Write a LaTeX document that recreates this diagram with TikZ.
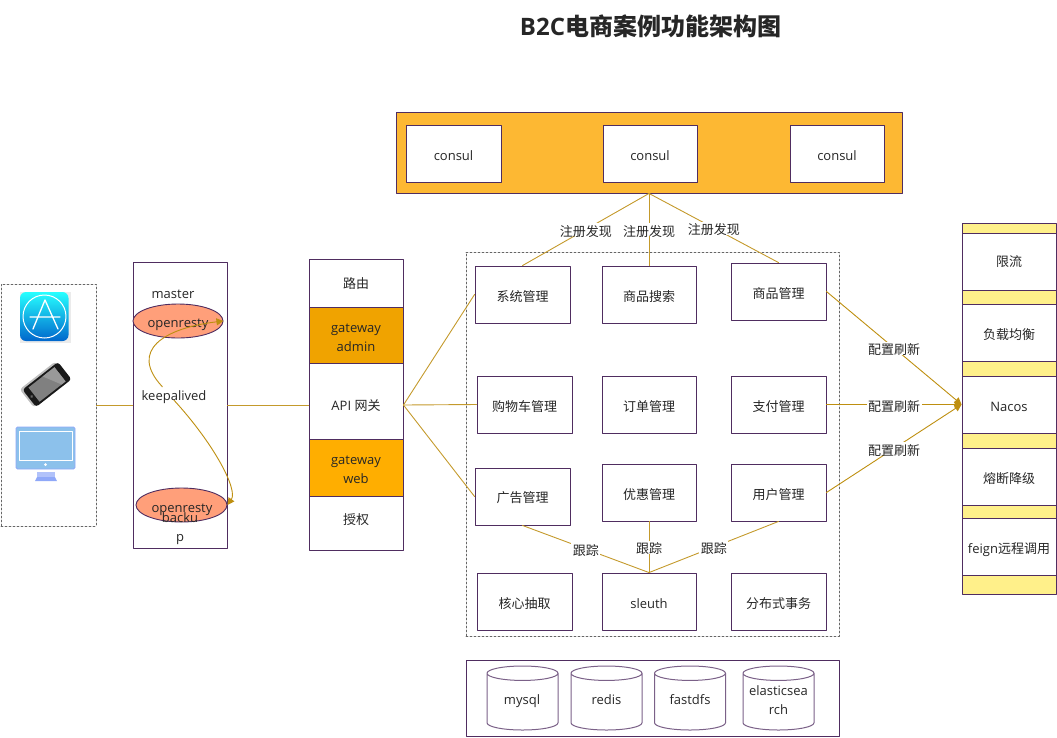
\documentclass[tikz,border=0pt]{standalone}
\usepackage{fontspec}
\setmainfont{Open Sans}
\newfontfamily\cjk{Noto Sans CJK SC}
\usetikzlibrary{arrows.meta,shapes.geometric}

\definecolor{edgepurple}{HTML}{4F2D60}
\definecolor{linegold}{HTML}{C49A2C}
\definecolor{tipgold}{HTML}{BE8F10}
\definecolor{panelorange}{HTML}{FDB833}
\definecolor{adminorange}{HTML}{F0A300}
\definecolor{weborange}{HTML}{FFAE00}
\definecolor{ovalsalmon}{HTML}{FF9F7A}
\definecolor{stripyellow}{HTML}{FFF08A}
\definecolor{screenblue}{HTML}{8CC1EB}
\definecolor{standblue}{HTML}{8FA8F8}

\begin{document}
\begin{tikzpicture}[line cap=round,line join=round,>={Triangle[length=7pt,width=7pt]},x=1pt,y=-1pt,
  txt/.style={font=\fontsize{13}{19}\selectfont,text=black!85,align=center,inner sep=0pt,text height=13pt,text depth=0pt},
  two/.style={txt,text height=32.5pt},
  zh/.style={txt,font=\cjk\fontsize{13}{19}\selectfont},
  box/.style={draw=edgepurple,line width=0.9pt,fill=white,minimum width=95pt,minimum height=57pt,inner sep=0pt},
  panel/.style={draw=edgepurple,line width=0.9pt,inner sep=0pt},
  dotbox/.style={draw=black!60,line width=0.9pt,dash pattern=on 2pt off 2pt,inner sep=0pt},
  strip/.style={panel,fill=stripyellow,minimum width=94pt},
  oval/.style={ellipse,draw=edgepurple,line width=0.9pt,fill=ovalsalmon,inner sep=0pt},
  db/.style={cylinder,shape border rotate=90,aspect=0.4,anchor=shape center,draw=edgepurple!75,line width=1pt,minimum width=71pt,minimum height=64pt,inner sep=0pt},
  wire/.style={draw=linegold,line width=0.9pt},
  lbl/.style={zh,fill=white,inner xsep=1.5pt}]
\useasboundingbox (0,0) rectangle (1057,737);

% title
\node[font=\cjk\bfseries\fontsize{24}{28}\selectfont,text=black!85,inner sep=0pt] (title) at (650.5,26.5) {{\fontspec{Open Sans}\bfseries B2C}电商案例功能架构图};

% dashed groups
\node[dotbox,minimum width=95pt,minimum height=242pt] (clients) at (48.5,405) {};
\node[dotbox,minimum width=373pt,minimum height=384pt] (services) at (652.5,444) {};

% consul
\node[panel,fill=panelorange,minimum width=506pt,minimum height=81pt] (consulpanel) at (649,152.5) {};
\node[box,txt] (consula) at (453.5,153.5) {consul};
\node[box,txt,minimum width=94pt] (consulb) at (650,153.5) {consul};
\node[box,txt,minimum width=94pt] (consulc) at (837,153.5) {consul};

% openresty
\node[panel,fill=white,minimum width=94pt,minimum height=286pt] (resty) at (180,405) {};
\node[txt] (master) at (173,292) {master};
\node[oval,txt,minimum width=90pt,minimum height=34pt] (restya) at (178,321) {openresty};
\node[oval,minimum width=91pt,minimum height=34pt] (restyb) at (181.5,505) {};
\node[txt] (restybtxt) at (182,505.5) {openresty};
\node[two] (backup) at (180,525) {backu\\p};
\node[txt] (keep) at (174,393.5) {keepalived};

% gateway
\node[box,zh,minimum width=94pt,minimum height=48pt,text depth=2pt] (route) at (356,283) {路由};
\node[box,two,fill=adminorange,minimum width=94pt,minimum height=56pt] (gwadmin) at (356,335) {gateway\\admin};
\node[box,txt,minimum width=94pt,minimum height=76pt,text height=19pt] (api) at (356,401) {API {\cjk 网关}};
\node[box,two,fill=weborange,minimum width=94pt,minimum height=57pt] (gwweb) at (356,467.5) {gateway\\web};
\node[box,zh,minimum width=94pt,minimum height=54pt,text depth=10pt] (auth) at (356,523) {授权};

% services
\node[box,zh] (sys) at (522.5,294.5) {系统管理};
\node[box,zh,minimum width=94pt] (search) at (649,294.5) {商品搜索};
\node[box,zh] (goods) at (778.5,291.5) {商品管理};
\node[box,zh] (cart) at (524.5,404.5) {购物车管理};
\node[box,zh,minimum width=94pt] (order) at (649,404.5) {订单管理};
\node[box,zh] (pay) at (778.5,404.5) {支付管理};
\node[box,zh,text depth=2pt] (ads) at (522.5,496.5) {广告管理};
\node[box,zh,minimum width=94pt] (coupon) at (649,492.5) {优惠管理};
\node[box,zh] (user) at (778.5,492.5) {用户管理};
\node[box,zh] (core) at (524.5,601.5) {核心抽取};
\node[box,txt,minimum width=94pt] (sleuth) at (649,601.5) {sleuth};
\node[box,zh] (trans) at (778.5,601.5) {分布式事务};

% storage
\node[panel,minimum width=373pt,minimum height=76pt] (storage) at (652.5,698) {};
\node[db,txt] (mysql) at (522.5,698) {\phantom{mysql}};
\node[db,txt] (redis) at (606.5,698) {\phantom{mysql}};
\node[db,txt] (fastdfs) at (690,698) {\phantom{mysql}};
\node[db,txt] (elastic) at (778.5,698) {\phantom{mysql}};
\node[txt] (mysqltxt) at (522,698) {mysql};
\node[txt] (redistxt) at (606.5,698) {redis};
\node[txt] (fastdfstxt) at (690,698) {fastdfs};
\node[two] (elastictxt) at (778.5,698) {elasticsea\\rch};

% right stack
\node[strip,minimum height=10pt] (bara) at (1009,228) {};
\node[box,zh,minimum width=94pt,text depth=4pt] (limit) at (1009,261.5) {限流};
\node[strip,minimum height=14pt] (barb) at (1009,297) {};
\node[box,zh,minimum width=94pt] (balance) at (1009,332.5) {负载均衡};
\node[strip,minimum height=15pt] (barc) at (1009,368.5) {};
\node[box,txt,minimum width=94pt] (nacos) at (1009,404.5) {Nacos};
\node[strip,minimum height=15pt] (bard) at (1009,440.5) {};
\node[box,zh,minimum width=94pt] (fuse) at (1009,476.5) {熔断降级};
\node[strip,minimum height=13pt] (bare) at (1009,511.5) {};
\node[box,txt,minimum width=94pt] (feign) at (1009,546.5) {feign{\cjk 远程调用}};
\node[strip,minimum height=19pt] (barf) at (1009,584.5) {};

% connectors
\draw[wire] (clients.east) -- (resty.west);
\draw[wire] (resty.east) -- (api.west |- resty.east);
\draw[wire] (api.east |- resty.east) -- (sys.west);
\draw[wire] (api.east |- resty.east) -- (cart.west);
\draw[wire] (api.east |- resty.east) -- (ads.west);
\draw[wire] (consulpanel.south) -- node[lbl,pos=0.5] (rega) {注册发现} (sys.north);
\draw[wire] (consulpanel.south) -- node[lbl,pos=0.5] (regb) {注册发现} (search.north);
\draw[wire] (consulpanel.south) -- node[lbl,pos=0.5] (regc) {注册发现} (goods.north);
\draw[wire] (sleuth.north) -- node[lbl,pos=0.5] (tracea) {跟踪} (ads.south);
\draw[wire] (sleuth.north) -- node[lbl,pos=0.5] (traceb) {跟踪} (coupon.south);
\draw[wire] (sleuth.north) -- node[lbl,pos=0.5] (tracec) {跟踪} (user.south);
\draw[wire,color=tipgold,->] (goods.east) -- node[lbl,pos=0.5] (cfga) {配置刷新} (nacos.west);
\draw[wire,color=tipgold,->] (pay.east) -- node[lbl,pos=0.5] (cfgb) {配置刷新} (nacos.west);
\draw[wire,color=tipgold,->] (user.east) -- node[lbl,pos=0.5] (cfgc) {配置刷新} (nacos.west);
\draw[wire,color=tipgold,->] (keep.150) .. controls (128,350) and (165,328) .. (restya.east);
\draw[wire,color=tipgold,->] (keep.south) .. controls (215,445) and (238,490) .. (restyb.east);

% client icons
\fill[black!8] (20,292) rectangle (71,343);
\shade[top color=cyan!85!white,bottom color=cyan!50!blue!80!black,rounded corners=6pt] (20,292) rectangle (68.5,341);
\draw[white,line width=1pt] (44.5,316.5) circle (21.5pt);
\draw[white,line width=1.3pt] (33,329) -- (45,300) (45,300) -- (58,329) (30,317) -- (60,317);

\begin{scope}[shift={(46,384)},rotate=38]
\fill[black!25,rounded corners=3pt] (-24,-12) rectangle (21,11);
\fill[black!90,rounded corners=3pt] (-22,-10) rectangle (23,12);
\fill[black!50] (-16,-8) rectangle (17,10);
\fill[black!40] (2,-8) -- (17,-8) -- (17,10) -- (12,10) -- cycle;
\fill[black!60] (-19,1) circle (1.5pt);
\end{scope}

\fill[screenblue,draw=standblue,line width=0.8pt,rounded corners=1.5pt] (16,427) rectangle (75,469);
\draw[white,line width=0.8pt] (19,431) rectangle (72,460);
\fill[white] (45.5,464.5) circle (1.5pt);
\fill[standblue!70!white] (37,472) rectangle (55,477);
\fill[standblue] (37,477) -- (55,477) -- (57,481) -- (35,481) -- cycle;
\end{tikzpicture}
\end{document}
